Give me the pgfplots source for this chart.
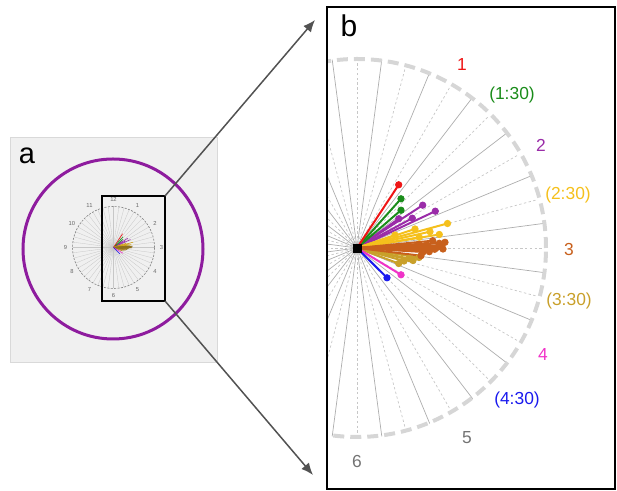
\documentclass[border=0pt]{standalone}
\usepackage{pgfplots}
\pgfplotsset{compat=1.18}
\usepackage{pgfplotstable}
\usepackage{fontspec}
\setmainfont{Liberation Sans}
\usetikzlibrary{arrows.meta}
\definecolor{cred}{HTML}{EE1515}
\definecolor{cgreen}{HTML}{1A8C1A}
\definecolor{cpurple}{HTML}{9A2CA8}
\definecolor{cgold}{HTML}{F5C01C}
\definecolor{cbrown}{HTML}{C8601C}
\definecolor{cdgold}{HTML}{C9A02A}
\definecolor{cmag}{HTML}{F033C8}
\definecolor{cblue}{HTML}{1A1AEE}
\definecolor{cpcirc}{HTML}{8E1C9E}

% ray end points, pixels relative to the clock centre (y up)
\pgfplotstableread{
x y
41.7 63.2
}\tred
\pgfplotstableread{
x y
44 49.2
44 37.8
}\tgreen
\pgfplotstableread{
x y
65.7 42.8
78.3 36.8
41.7 29.2
55.3 29.8
}\tpurple
\pgfplotstableread{
x y
90.5 24.5
58 19
82.3 13.5
62.3 10.7
38 13
73 16.3
}\tgold
\pgfplotstableread{
x y
56 -12.5
47 -13
41.7 -15.5
62 -9.5
52 -10.5
}\tdgold
\pgfplotstableread{
x y
75.7 7.3
82.3 4.7
88 5.7
84.3 2.3
71 -0.3
77.7 -1.3
72.3 -3.7
64 -7.7
69.7 3
80 0.5
86 -1
60 2
66 -4
}\tbrown
\pgfplotstableread{
x y
44 -26.8
}\tmag
\pgfplotstableread{
x y
30 -29.8
}\tblue

\newcommand{\rays}[3]{% table, colour, line width
  \addplot[#2, line width=#3, quiver={u=\thisrow{x}, v=\thisrow{y}}] table[x expr=0, y expr=0] {#1};
}
\newcommand{\raydots}[3]{% table, colour, mark size
  \addplot[#2, only marks, mark=*, mark size=#3] table[x=x, y=y] {#1};
}

\begin{document}
\begin{tikzpicture}[x=0.5pt,y=0.5pt]
\useasboundingbox (0,0) rectangle (617,491);

% ---------- panel a ----------
\fill[black!6] (10,129) rectangle (217,354);
\draw[black!15, line width=0.4pt] (10,129) rectangle (217,354);
\node[anchor=base, font=\fontsize{14.5}{16}\selectfont] at (27,327.7) {a};
\foreach \k in {0,...,47}
  \draw[black!22, line width=0.15pt] (113.5,243.5) -- ({113.5+41*sin(7.5*\k)},{243.5+41*cos(7.5*\k)});
\draw[black!50, line width=0.3pt, dash pattern=on 1pt off 0.7pt] (113.5,243.5) circle[radius=41];
\foreach \k in {1,...,12}
  \node[text=black!60, font=\fontsize{2.9}{3}\selectfont, inner sep=0pt] at ({113.5+48*sin(30*\k)},{243.5+48*cos(30*\k)}) {\k};

\begin{axis}[at={(56.75pt,121.75pt)}, anchor=center, x=0.1085pt, y=0.1085pt,
  xmin=-200, xmax=200, ymin=-200, ymax=200, hide axis, clip=false]
  \rays{\tpurple}{cpurple}{0.3pt}
  \rays{\tgreen}{cgreen}{0.3pt}
  \rays{\tred}{cred}{0.3pt}
  \rays{\tgold}{cgold!85!black}{0.3pt}
  \rays{\tdgold}{cdgold!85!black}{0.3pt}
  \rays{\tbrown}{cdgold!70!black}{0.4pt}
  \rays{\tmag}{cmag}{0.3pt}
  \rays{\tblue}{cblue}{0.3pt}
\end{axis}

\draw[cpcirc, line width=1.5pt] (113,242) circle[radius=90];
\draw[black, line width=0.8pt] (102,190) rectangle (165,295);

\draw[black!68, line width=0.75pt, -{Latex[length=6pt,width=5pt]}] (165,295) -- (315,471);
\draw[black!68, line width=0.75pt, -{Latex[length=6pt,width=5pt]}] (165,190) -- (313,16);

% ---------- panel b ----------
\begin{axis}[at={(327,2)}, anchor=south west, x=0.5pt, y=0.5pt,
  xmin=-30, xmax=258, ymin=-241, ymax=241,
  xtick=\empty, ytick=\empty, axis line style={line width=1pt, black},
  axis on top, clip=true]
  \pgfplotsinvokeforeach{0,...,23}{
    \draw[black!32, line width=0.35pt] (axis cs:0,0) -- (axis cs:{190*cos(82.5-15*#1)},{190*sin(82.5-15*#1)});
    \draw[black!22, line width=0.35pt, dash pattern=on 1.2pt off 1.2pt] (axis cs:0,0) -- (axis cs:{185*cos(90-15*#1)},{185*sin(90-15*#1)});
  }
  \draw[black!16, line width=2pt, dash pattern=on 5.5pt off 3pt] (axis cs:0,0) circle[radius=189];

  \rays{\tpurple}{cpurple}{1pt}
  \raydots{\tpurple}{cpurple}{1.6pt}
  \rays{\tgreen}{cgreen}{1pt}
  \raydots{\tgreen}{cgreen}{1.6pt}
  \rays{\tred}{cred}{1pt}
  \raydots{\tred}{cred}{1.6pt}
  \rays{\tgold}{cgold}{1pt}
  \raydots{\tgold}{cgold}{1.6pt}
  \rays{\tdgold}{cdgold}{1pt}
  \raydots{\tdgold}{cdgold}{1.6pt}
  \rays{\tbrown}{cbrown}{1pt}
  \raydots{\tbrown}{cbrown}{1.6pt}
  \rays{\tmag}{cmag}{1pt}
  \raydots{\tmag}{cmag}{1.6pt}
  \rays{\tblue}{cblue}{1pt}
  \raydots{\tblue}{cblue}{1.6pt}
  \addplot[black, only marks, mark=square*, mark size=2pt] coordinates {(0,0)};

  \node[anchor=base, font=\fontsize{15}{18}\selectfont] at (axis cs:-8,211.3) {b};
  \begin{scope}[font=\fontsize{8.7}{10}\selectfont]
  \node[text=cred]    at (axis cs:105,183.5) {1};
  \node[text=cgreen]  at (axis cs:155,153) {(1:30)};
  \node[text=cpurple] at (axis cs:184,103) {2};
  \node[text=cgold]   at (axis cs:211,53) {(2:30)};
  \node[text=cbrown]  at (axis cs:212,-1.5) {3};
  \node[text=cdgold]  at (axis cs:212,-53) {(3:30)};
  \node[text=cmag]    at (axis cs:186,-106.5) {4};
  \node[text=cblue]   at (axis cs:160,-152.5) {(4:30)};
  \node[text=black!55] at (axis cs:110,-190) {5};
  \node[text=black!55] at (axis cs:0,-214) {6};
  \end{scope}
\end{axis}
\end{tikzpicture}
\end{document}
